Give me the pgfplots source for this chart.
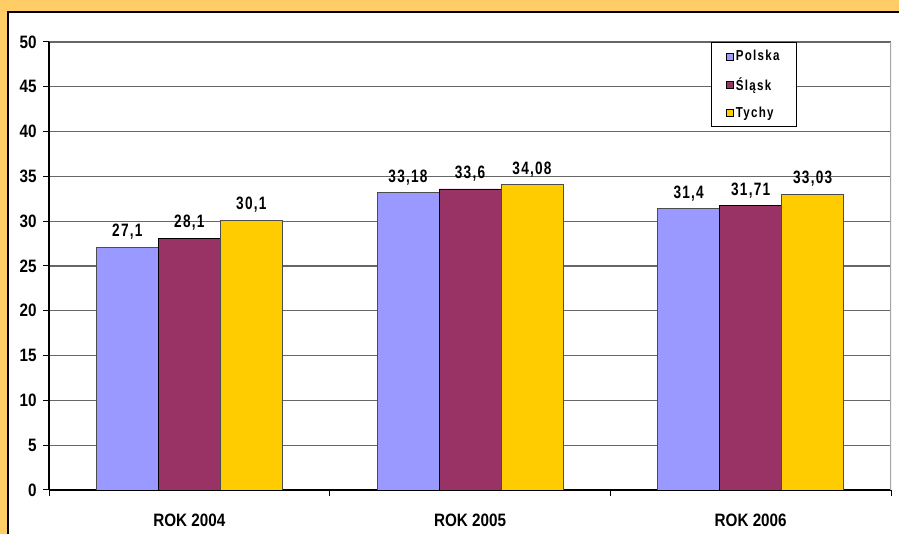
\documentclass[border=0pt]{standalone}
\usepackage{pgfplots}
\pgfplotsset{compat=1.18}
\usepackage{fontspec}
\setmainfont{Liberation Sans}
\newfontfamily\tall[FakeStretch=0.85]{Liberation Sans}
\newfontfamily\spaced[FakeStretch=0.76, LetterSpace=7]{Liberation Sans}
\newfontfamily\legfont[FakeStretch=0.8, LetterSpace=9]{Liberation Sans}
\definecolor{frameor}{HTML}{FFCC66}
\definecolor{cPol}{HTML}{9999FF}
\definecolor{cSla}{HTML}{993366}
\definecolor{cTyc}{HTML}{FFCC00}
\begin{document}
\begin{tikzpicture}[x=1bp,y=1bp]
\path[use as bounding box] (0,0) rectangle (899,534);
\fill[frameor] (0,0) rectangle (899,534);
\fill[white] (8,0) rectangle (899,522);
\draw[black, line width=1.5bp] (8,-2) -- (8,522) -- (901,522);
\begin{axis}[
    at={(49bp,44bp)}, anchor=south west,
    scale only axis, width=842bp, height=448bp,
    ybar=0pt, bar width=62bp,
    ymin=0, ymax=50, ytick={0,5,...,50},
    xmin=-0.5, xmax=2.5,
    xtick={0,1,2},
    xticklabels={ROK 2004,ROK 2005,ROK 2006},
    minor xtick={-0.5,0.5,1.5,2.5},
    major x tick style={draw=none},
    tick align=outside,
    major tick length=6bp, minor tick length=6bp,
    tick style={black, line width=1bp},
    axis x line*=bottom, axis y line*=left,
    axis line style={black, line width=1.2bp, -},
    ymajorgrids,
    grid style={black!60, line width=1.1bp},
    /pgf/number format/assume math mode=true,
    /pgf/number format/use comma,
    yticklabel style={font=\tall\bfseries\fontsize{18}{18}\selectfont, xshift=-3bp},
    xticklabel style={font=\tall\bfseries\fontsize{18}{18}\selectfont, yshift=-14bp},
    nodes near coords={\pgfmathprintnumber{\pgfplotspointmeta}},
    every node near coord/.append style={font=\spaced\bfseries\fontsize{18}{18}\selectfont, yshift=4bp, black},
    legend style={at={(0.786,1)}, anchor=north west, draw=black, line width=0.8bp,
        font=\legfont\bfseries\fontsize{14.5}{14.5}\selectfont,
        inner xsep=15bp, inner ysep=6bp, row sep=11bp},
    legend cell align=left,
    legend image code/.code={\draw[#1, draw=black, line width=0.6bp] (2bp,-3.5bp) rectangle (9bp,3.5bp);},
]
\addplot[fill=cPol, draw=black!70, line width=0.8bp] coordinates {(0,27.1) (1,33.18) (2,31.4)};
\addplot[fill=cSla, draw=black, line width=0.8bp] coordinates {(0,28.1) (1,33.6) (2,31.71)};
\addplot[fill=cTyc, draw=black!70, line width=0.8bp] coordinates {(0,30.1) (1,34.08) (2,33.03)};
\legend{Polska,Śląsk,Tychy}
\draw[black!35, line width=1.2bp] (rel axis cs:1,0) -- (rel axis cs:1,1);
\end{axis}
\end{tikzpicture}
\end{document}
